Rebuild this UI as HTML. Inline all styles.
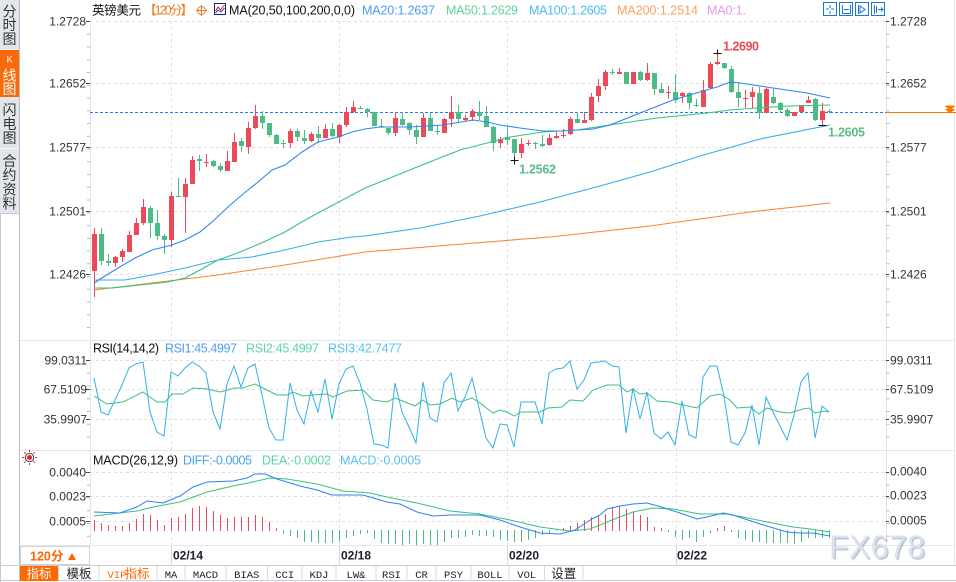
<!DOCTYPE html>
<html><head><meta charset="utf-8">
<style>
html,body{margin:0;padding:0;background:#fff;}
body{width:956px;height:582px;overflow:hidden;position:relative;font-family:"Liberation Sans","Noto Sans CJK SC",sans-serif;}
svg{position:absolute;left:0;top:0;}
</style></head><body>
<svg width="956" height="582" viewBox="0 0 956 582" xmlns="http://www.w3.org/2000/svg" font-family="'Liberation Sans','Noto Sans CJK SC',sans-serif">
<rect x="0" y="0" width="956" height="582" fill="#fff"/>

<!-- Sidebar -->
<rect x="0" y="0" width="19" height="213" fill="#e3e5ed"/>
<rect x="0" y="50" width="19" height="47" fill="#fb6a0a"/>
<path d="M0 49.5h19M0 148.5h19" stroke="#f3f4f8" stroke-width="1"/>
<path d="M0.5 213V582" stroke="#c5c9d2"/>
<path d="M19.5 0V582" stroke="#b9bec9"/>
<path d="M0 213.5h19" stroke="#c5c9d2"/>
<g font-size="14" fill="#333" text-anchor="middle" dominant-baseline="central" font-family="'Noto Sans CJK SC',sans-serif">
<text x="9.5" y="11.5">分</text><text x="9.5" y="25">时</text><text x="9.5" y="39">图</text>
<text x="9.5" y="61" fill="#fff" font-size="10" font-family="'Liberation Mono',monospace">K</text>
<text x="9.5" y="75.5" fill="#fff">线</text><text x="9.5" y="89" fill="#fff">图</text>
<text x="9.5" y="110">闪</text><text x="9.5" y="124">电</text><text x="9.5" y="138">图</text>
<text x="9.5" y="161">合</text><text x="9.5" y="175">约</text><text x="9.5" y="189.5">资</text><text x="9.5" y="203.5">料</text>
</g>

<!-- Header -->
<g font-size="12.5">
<text x="92" y="14.5" fill="#111" textLength="49" font-family="'Noto Sans CJK SC',sans-serif">英镑美元</text>
<text x="144" y="14.5" fill="#f07a20" textLength="49">【120分】</text>
<text x="229" y="14.5" fill="#111" textLength="126">MA(20,50,100,200,0,0)</text>
<text x="362" y="14.5" fill="#4b9cf2" textLength="73">MA20:1.2637</text>
<text x="446" y="14.5" fill="#5dd39e" textLength="72">MA50:1.2629</text>
<text x="529" y="14.5" fill="#4fb9ee" textLength="78">MA100:1.2605</text>
<text x="617" y="14.5" fill="#f7a064" textLength="81">MA200:1.2514</text>
<text x="707" y="14.5" fill="#e79be6" textLength="39">MA0:1.</text>
</g>
<circle cx="201.5" cy="10.5" r="4" fill="none" stroke="#f07a20"/>
<path d="M196 10.5h11M201.5 5v11" stroke="#f07a20"/>
<rect x="214.5" y="3.5" width="11" height="11" fill="#fff" stroke="#1b2a6b"/>
<polyline points="215.5,11 218,7 220.5,10 224.5,5" stroke="#e02020" fill="none"/>
<polyline points="215.5,13 218,10 221,12 224.5,8" stroke="#2050e0" fill="none"/>
<g stroke="#1a78d4" fill="#fff">
<rect x="823.5" y="2.5" width="13" height="13"/><rect x="839.5" y="2.5" width="13" height="13"/>
<rect x="855.5" y="2.5" width="13" height="13"/><rect x="871.5" y="2.5" width="13" height="13"/>
</g>
<g stroke="#1a78d4" fill="none">
<path d="M830 5v3M830 11v3M826 9h3M831 9h3"/>
<path d="M842.5 5v9M850.5 5v9M844 9.5h5M842 13.5h9"/>
<path d="M858.5 5v9M860 6l5 3.5-5 3.5z"/>
<path d="M874.5 5v9M876.5 6v7M878 9.5h5M881 7.5l2 2-2 2"/>
</g>

<!-- Grid -->
<g stroke="#e0e0e0" stroke-dasharray="3,3">
<path d="M90 21.5H886M90 83.5H886M90 147.5H886M90 211.5H886M90 274.5H886"/>
<path d="M90 360.5H886M90 389.5H886M90 419.5H886"/>
<path d="M90 472.5H886M90 496.5H886M90 521.5H886"/>
<path d="M171.5 21V545M339.5 21V545M507.5 21V545M676.5 21V545"/>
</g>
<path d="M90.5 19V546M886.5 19V546" stroke="#e0e4ea"/>
<path d="M20 340.5H954M20 450.5H954M20 545.5H954" stroke="#e3e7ec"/>
<path d="M954.5 0V565" stroke="#e3e7ec"/>
<g stroke="#b4b8c0" stroke-width="3" stroke-dasharray="1,11.75">
<line x1="88.5" y1="21" x2="88.5" y2="338"/>
<line x1="888" y1="21" x2="888" y2="338"/>
<line x1="88.5" y1="360" x2="88.5" y2="448"/>
<line x1="888" y1="360" x2="888" y2="448"/>
<line x1="88.5" y1="472" x2="88.5" y2="544"/>
<line x1="888" y1="472" x2="888" y2="544"/>
</g>
<g stroke="#3a4256">
<path d="M86 21.5h4M86 83.5h4M86 147.5h4M86 211.5h4M86 274.5h4M86 360.5h4M86 389.5h4M86 419.5h4M86 472.5h4M86 496.5h4M86 521.5h4"/>
<path d="M886 21.5h3M886 83.5h3M886 147.5h3M886 211.5h3M886 274.5h3M886 360.5h3M886 389.5h3M886 419.5h3M886 472.5h3M886 496.5h3M886 521.5h3"/>
</g>

<!-- Axis labels -->
<g font-size="12" fill="#333" text-anchor="end">
<text x="86" y="25.5">1.2728</text><text x="86" y="87.5">1.2652</text><text x="86" y="151.5">1.2577</text><text x="86" y="215.5">1.2501</text><text x="86" y="278.5">1.2426</text>
<text x="87" y="364.5">99.0311</text><text x="87" y="393.5">67.5109</text><text x="87" y="423.5">35.9907</text>
<text x="86" y="476.5">0.0040</text><text x="86" y="500.5">0.0023</text><text x="86" y="525.5">0.0005</text>
</g>
<g font-size="12" fill="#333">
<text x="890" y="25.5">1.2728</text><text x="890" y="87.5">1.2652</text><text x="890" y="151.5">1.2577</text><text x="890" y="215.5">1.2501</text><text x="890" y="278.5">1.2426</text>
<text x="890" y="364.5">99.0311</text><text x="890" y="393.5">67.5109</text><text x="890" y="423.5">35.9907</text>
<text x="890" y="475.5">0.0040</text><text x="890" y="499.5">0.0023</text><text x="890" y="524.5">0.0005</text>
</g>

<!-- Current price line -->
<path d="M90 112.5H886" stroke="#1a7ff0" stroke-dasharray="3,2"/>
<path d="M886 112.5H956" stroke="#f57c00"/>
<path d="M946 106h8M946 106.5l4 3.5 4-3.5zM946 109.5l4 3.5 4-3.5z" stroke="#f57c00" fill="#f57c00" stroke-width="1"/>

<!-- Candles -->
<path stroke="#ec4a5b" fill="none" d="M94.5 228V297M115.5 256V267M122.5 249V262M129.5 231V252M136.5 218V235M143.5 199V225M171.5 192V247M185.5 178V233M192.5 156V184M206.5 154V167M227.5 151V171M234.5 133V162M248.5 122V154M255.5 105V129M290.5 129V148M311.5 132V142M325.5 124V138M339.5 124V143M346.5 107V127M353.5 101V113M395.5 112V136M423.5 113V137M444.5 118V133M451.5 96V127M465.5 115V122M472.5 109V121M500.5 137V148M521.5 138V158M528.5 140V146M549.5 134V146M556.5 131V139M563.5 129V138M570.5 117V135M584.5 112V123M591.5 93V121M598.5 79V102M605.5 70V90M619.5 68V74M633.5 72V84M647.5 63V81M668.5 86V99M682.5 92V103M703.5 80V107M710.5 62V89M717.5 53V65M745.5 90V108M752.5 87V108M766.5 88V113M794.5 112V116M801.5 105V112M808.5 96V103M822.5 103V125"/>
<path fill="#ec4a5b" d="M92 234h5v37h-5zM113 257h5v6h-5zM120 251h5v6h-5zM127 235h5v17h-5zM134 223h5v12h-5zM141 207h5v16h-5zM169 196h5v44h-5zM183 184h5v13h-5zM190 160h5v24h-5zM204 162h5v1h-5zM225 161h5v10h-5zM232 142h5v20h-5zM246 128h5v19h-5zM253 116h5v12h-5zM288 131h5v12h-5zM309 134h5v7h-5zM323 129h5v9h-5zM337 125h5v12h-5zM344 112h5v13h-5zM351 107h5v5h-5zM393 118h5v15h-5zM421 118h5v19h-5zM442 119h5v14h-5zM449 112h5v7h-5zM463 118h5v2h-5zM470 111h5v6h-5zM498 139h5v4h-5zM519 144h5v9h-5zM526 143h5v1h-5zM547 138h5v7h-5zM554 136h5v2h-5zM561 135h5v1h-5zM568 119h5v15h-5zM582 120h5v3h-5zM589 97h5v23h-5zM596 86h5v10h-5zM603 72h5v14h-5zM617 72h5v2h-5zM631 72h5v12h-5zM645 73h5v7h-5zM666 92h5v1h-5zM680 93h5v3h-5zM701 90h5v17h-5zM708 64h5v24h-5zM715 62h5v2h-5zM743 98h5v1h-5zM750 92h5v5h-5zM764 89h5v24h-5zM792 112h5v4h-5zM799 105h5v7h-5zM806 100h5v3h-5zM820 111h5v9h-5z"/>
<path stroke="#4cbb85" fill="none" d="M101.5 228V265M108.5 254V266M150.5 206V238M157.5 210V240M164.5 234V254M178.5 178V197M199.5 155V171M213.5 160V167M220.5 163V172M241.5 138V152M262.5 111V129M269.5 123V137M276.5 134V144M283.5 140V148M297.5 129V141M304.5 130V144M318.5 126V143M332.5 123V137M360.5 106V109M367.5 108V117M374.5 112V126M381.5 119V128M388.5 128V135M402.5 112V126M409.5 122V135M416.5 125V144M430.5 113V131M437.5 125V135M458.5 105V123M479.5 101V120M486.5 106V127M493.5 126V151M507.5 126V145M514.5 139V160M535.5 142V149M542.5 135V147M577.5 112V123M612.5 69V75M626.5 72V84M640.5 71V81M654.5 73V95M661.5 83V93M675.5 74V103M689.5 92V109M696.5 99V107M724.5 63V69M731.5 66V93M738.5 82V107M759.5 87V119M773.5 88V104M780.5 102V112M787.5 108V117M815.5 98V121M829.5 109V113"/>
<path fill="#4cbb85" d="M99 234h5v27h-5zM106 261h5v2h-5zM148 208h5v15h-5zM155 223h5v13h-5zM162 236h5v4h-5zM176 196h5v1h-5zM197 159h5v2h-5zM211 161h5v5h-5zM218 166h5v4h-5zM239 141h5v5h-5zM260 116h5v7h-5zM267 123h5v12h-5zM274 135h5v9h-5zM281 143h5v1h-5zM295 131h5v6h-5zM302 138h5v3h-5zM316 134h5v4h-5zM330 129h5v7h-5zM358 108h5v1h-5zM365 109h5v3h-5zM372 112h5v14h-5zM379 126h5v1h-5zM386 128h5v5h-5zM400 119h5v6h-5zM407 123h5v7h-5zM414 130h5v7h-5zM428 118h5v13h-5zM435 131h5v1h-5zM456 112h5v7h-5zM477 112h5v4h-5zM484 116h5v11h-5zM491 127h5v16h-5zM505 137h5v3h-5zM512 139h5v14h-5zM533 143h5v1h-5zM540 144h5v2h-5zM575 119h5v4h-5zM610 72h5v1h-5zM624 72h5v12h-5zM638 72h5v8h-5zM652 73h5v16h-5zM659 89h5v4h-5zM673 92h5v8h-5zM687 93h5v10h-5zM694 105h5v1h-5zM722 63h5v5h-5zM729 69h5v23h-5zM736 92h5v6h-5zM757 93h5v20h-5zM771 97h5v6h-5zM778 103h5v7h-5zM785 110h5v6h-5zM813 99h5v21h-5zM827 111h5v1h-5z"/>

<!-- MAs -->
<g fill="none" stroke-width="1.1">
<polyline stroke="#f5883c" points="94,290 152,283 218,275 285,265 365,252 450,245 550,237 650,226 750,212 830,203"/>
<polyline stroke="#35aee8" points="94,280 125,280 152,275 185,268 218,260 252,257 285,250 318,242 352,237 365,236 420,228 480,216 540,202 600,186 650,172 700,156 760,139 830,125"/>
<polyline stroke="#38c37c" points="94,288 112,288 140,285 168,282 185,278 200,270 218,260 235,254 252,247 268,240 285,232 300,223 318,213 335,204 352,195 365,188 390,178 427,163 460,150 487,143 510,137 543,132 577,130 610,125 657,118 707,113 730,110 757,108 790,106 830,105"/>
<polyline stroke="#2e86f2" points="94,283 105,276 118,268 135,258 152,250 172,245 185,240 200,232 212,222 228,207 243,194 258,182 272,170 285,165 302,152 318,142 338,137 352,132 365,129 380,127 410,127 443,125 473,120 487,122 500,125 520,128 543,131 560,131 577,130 593,129 610,125 640,113 673,100 703,91 717,87 730,82 740,83 773,88 807,93 830,98"/>
</g>

<!-- Markers -->
<path d="M713.5 53.5h8M717.5 49.5v5M510.5 160.5h8M514.5 156.5v8M818.5 125.5h8" stroke="#111"/>
<text x="723" y="50.5" font-size="12.5" font-weight="bold" fill="#e8475c" textLength="36">1.2690</text>
<text x="519" y="173.5" font-size="12.5" font-weight="bold" fill="#5cbd8a" textLength="37">1.2562</text>
<text x="828" y="136.5" font-size="12.5" font-weight="bold" fill="#5cbd8a" textLength="37">1.2605</text>

<!-- RSI -->
<g font-size="12.5">
<text x="93" y="352.5" fill="#111" textLength="66">RSI(14,14,2)</text>
<text x="165" y="352.5" fill="#4e9ef3" textLength="72">RSI1:45.4997</text>
<text x="246" y="352.5" fill="#5fd39f" textLength="73">RSI2:45.4997</text>
<text x="328" y="352.5" fill="#5cc0f0" textLength="74">RSI3:42.7477</text>
</g>
<polyline fill="none" stroke="#3cc07c" points="94,396 107,404 123,402 143,392 157,402 165,402 172,394 183,394 193,388 207,389 220,392 235,388 243,388 255,384 267,390 277,395 287,395 293,392 303,396 313,395 327,394 333,397 347,391 363,390 373,400 387,402 395,398 405,402 415,406 423,400 430,405 440,404 452,398 460,402 472,398 480,403 493,413 500,410 507,412 514,416 521,412 540,412 548,408 562,407 570,400 583,401 593,390 607,385 619,385 627,392 633,389 640,394 647,393 657,401 670,402 683,405 697,408 710,396 720,394 730,400 737,408 750,407 759,414 767,408 780,412 790,413 803,409 809,408 815,413 823,411 829,412"/>
<polyline fill="none" stroke="#33b0e8" points="94,378 101,412 108,415 115,400 122,385 129,368 136,364 143,362 150,412 157,432 164,436 171,372 178,376 185,368 192,362 199,366 206,373 213,412 220,429 227,384 234,366 241,387 248,368 255,364 262,395 269,428 276,440 283,440 290,383 297,410 304,424 311,391 318,412 325,379 332,419 339,384 346,369 353,366 360,383 367,409 374,444 381,445 388,448 395,383 402,412 409,427 416,443 423,382 430,418 437,422 444,383 451,373 458,411 465,397 472,378 479,408 486,438 493,448 500,424 507,425 514,447 521,402 528,402 535,402 542,424 549,373 556,369 563,368 570,361 577,389 584,380 591,363 598,362 605,361 612,366 619,367 626,433 633,388 640,419 647,392 654,433 661,439 668,432 675,445 682,401 689,435 696,438 703,377 710,366 717,366 724,396 731,442 738,445 745,433 752,405 759,445 766,397 773,412 780,426 787,440 794,415 801,382 808,373 815,438 822,406 829,412"/>

<!-- MACD -->
<g transform="translate(29.5,457.5)">
<circle r="2.5" fill="#e8202a"/>
<circle r="4.2" fill="none" stroke="#333" stroke-width="0.9"/>
<path d="M0 -5.5V-7.5M0 5.5V7.5M-5.5 0H-7.5M5.5 0H7.5M3.9 3.9L5.3 5.3M-3.9 -3.9L-5.3 -5.3M3.9 -3.9L5.3 -5.3M-3.9 3.9L-5.3 5.3" stroke="#e8202a" stroke-width="1"/>
</g>
<g font-size="12.5">
<text x="93" y="464.5" fill="#111" textLength="85">MACD(26,12,9)</text>
<text x="183" y="464.5" fill="#4e9ef3" textLength="69">DIFF:-0.0005</text>
<text x="262" y="464.5" fill="#5fd39f" textLength="69">DEA:-0.0002</text>
<text x="340" y="464.5" fill="#5cc0f0" textLength="81">MACD:-0.0005</text>
</g>
<path stroke="#ec4a5b" d="M94.5 531V520M101.5 531V523M108.5 531V525M115.5 531V526M122.5 531V526M129.5 531V523M136.5 531V519M143.5 531V514M150.5 531V515M157.5 531V520M164.5 531V525M171.5 531V518M178.5 531V517M185.5 531V514M192.5 531V508M199.5 531V506M206.5 531V507M213.5 531V511M220.5 531V515M227.5 531V518M234.5 531V517M241.5 531V517M248.5 531V517M255.5 531V515M262.5 531V517M269.5 531V522M276.5 531V528M563.5 531V528M570.5 531V526M577.5 531V523M584.5 531V520M591.5 531V517M598.5 531V515M605.5 531V514M612.5 531V507M619.5 531V506M626.5 531V509M633.5 531V512M640.5 531V515M647.5 531V517M654.5 531V527M661.5 531V528M717.5 531V528M724.5 531V526"/>
<path stroke="#4cbb85" d="M283.5 530V534M290.5 530V536M297.5 530V538M304.5 530V542M311.5 530V542M318.5 530V543M325.5 530V543M332.5 530V543M339.5 530V542M346.5 530V538M353.5 530V536M360.5 530V534M367.5 530V533M374.5 530V539M381.5 530V543M388.5 530V544M395.5 530V544M402.5 530V545M409.5 530V544M416.5 530V545M423.5 530V544M430.5 530V545M437.5 530V545M444.5 530V542M451.5 530V538M458.5 530V538M465.5 530V537M472.5 530V535M479.5 530V536M486.5 530V536M493.5 530V537M500.5 530V540M507.5 530V541M514.5 530V542M521.5 530V542M528.5 530V540M535.5 530V538M542.5 530V535M549.5 530V533M556.5 530V531M668.5 530V532M675.5 530V537M682.5 530V540M689.5 530V538M696.5 530V542M703.5 530V537M710.5 530V533M731.5 530V532M738.5 530V538M745.5 530V540M752.5 530V542M759.5 530V542M766.5 530V543M773.5 530V543M780.5 530V543M787.5 530V543M794.5 530V544M801.5 530V542M808.5 530V538M815.5 530V538M822.5 530V538M829.5 530V538"/>
<polyline fill="none" stroke="#3cc07c" points="94,516 120,513 137,511 153,507 180,502 207,492 233,486 253,482 270,478 287,479 317,484 343,491 370,493 387,497 417,503 450,511 480,514 510,520 540,527 570,531 590,529 600,525 617,518 633,512 653,508 673,509 700,514 727,514 743,517 767,522 793,527 810,529 830,532"/>
<polyline fill="none" stroke="#2f80ee" points="94,512 120,513 137,507 147,501 163,503 180,496 193,487 207,482 233,481 247,478 255,474 265,474 277,479 300,486 317,490 332,495 350,495 363,495 387,502 400,504 417,512 433,516 450,515 480,515 500,520 520,527 540,533 560,534 575,530 590,520 600,515 607,509 620,506 633,504 647,503 658,506 677,512 697,519 707,517 723,513 733,515 760,524 787,532 800,533 813,533 830,536"/>

<!-- Watermark -->
<text x="830.5" y="559.5" font-size="32" fill="#8e99aa" opacity="0.55" textLength="96">FX678</text>
<text x="829" y="558" font-size="32" fill="#d8e2f0" textLength="96">FX678</text>

<!-- Date axis row -->
<path d="M171.5 546V565M339.5 546V565M507.5 546V565M676.5 546V565" stroke="#d8dce2"/>
<g font-size="12" font-weight="bold" fill="#1c1f2e">
<text x="173" y="559.5">02/14</text><text x="341" y="559.5">02/18</text><text x="509" y="559.5">02/20</text><text x="677" y="559.5">02/22</text>
</g>
<rect x="20.5" y="546.5" width="69" height="18" fill="#fff" stroke="#d0d4da"/>
<text x="30" y="560.5" fill="#ff6600" font-size="12.5" font-weight="bold" font-family="'Liberation Sans','Noto Sans CJK SC',sans-serif">120分</text>
<path d="M68 560L72 553L76 560Z" fill="#ff6600"/>

<!-- Toolbar -->
<rect x="20" y="566" width="936" height="15" fill="#fff"/>
<path d="M0 565.5H956M0 580.5H956" stroke="#c9ccd3"/>
<rect x="20" y="566" width="38.5" height="15" fill="#ff6a00"/>
<path d="M58.5 566V581M99 566V581M157 566V581M185 566V581M226 566V581M267.5 566V581M302 566V581M336 566V581M376 566V581M407 566V581M436 566V581M471 566V581M509 566V581M544.5 566V581M583 566V581" stroke="#d5d8de"/>
<g font-size="12.5" text-anchor="middle" font-family="'Noto Sans CJK SC',sans-serif">
<text x="39" y="578" fill="#fff">指标</text>
<text x="79" y="578" fill="#222">模板</text>
<text x="563.75" y="578" fill="#222">设置</text>
<text x="137" y="578" fill="#ff6600">指标</text>
</g>
<g font-size="10.5" text-anchor="middle" fill="#222" font-family="'Liberation Mono',monospace">
<text x="117" y="578" fill="#ff6600">VIP</text>
<text x="171" y="578">MA</text>
<text x="205.5" y="578">MACD</text>
<text x="246.75" y="578">BIAS</text>
<text x="284.75" y="578">CCI</text>
<text x="319" y="578">KDJ</text>
<text x="356" y="578">LW&amp;</text>
<text x="391.5" y="578">RSI</text>
<text x="421.5" y="578">CR</text>
<text x="453.5" y="578">PSY</text>
<text x="490" y="578">BOLL</text>
<text x="526.75" y="578">VOL</text>
</g>
</svg>
</body></html>
